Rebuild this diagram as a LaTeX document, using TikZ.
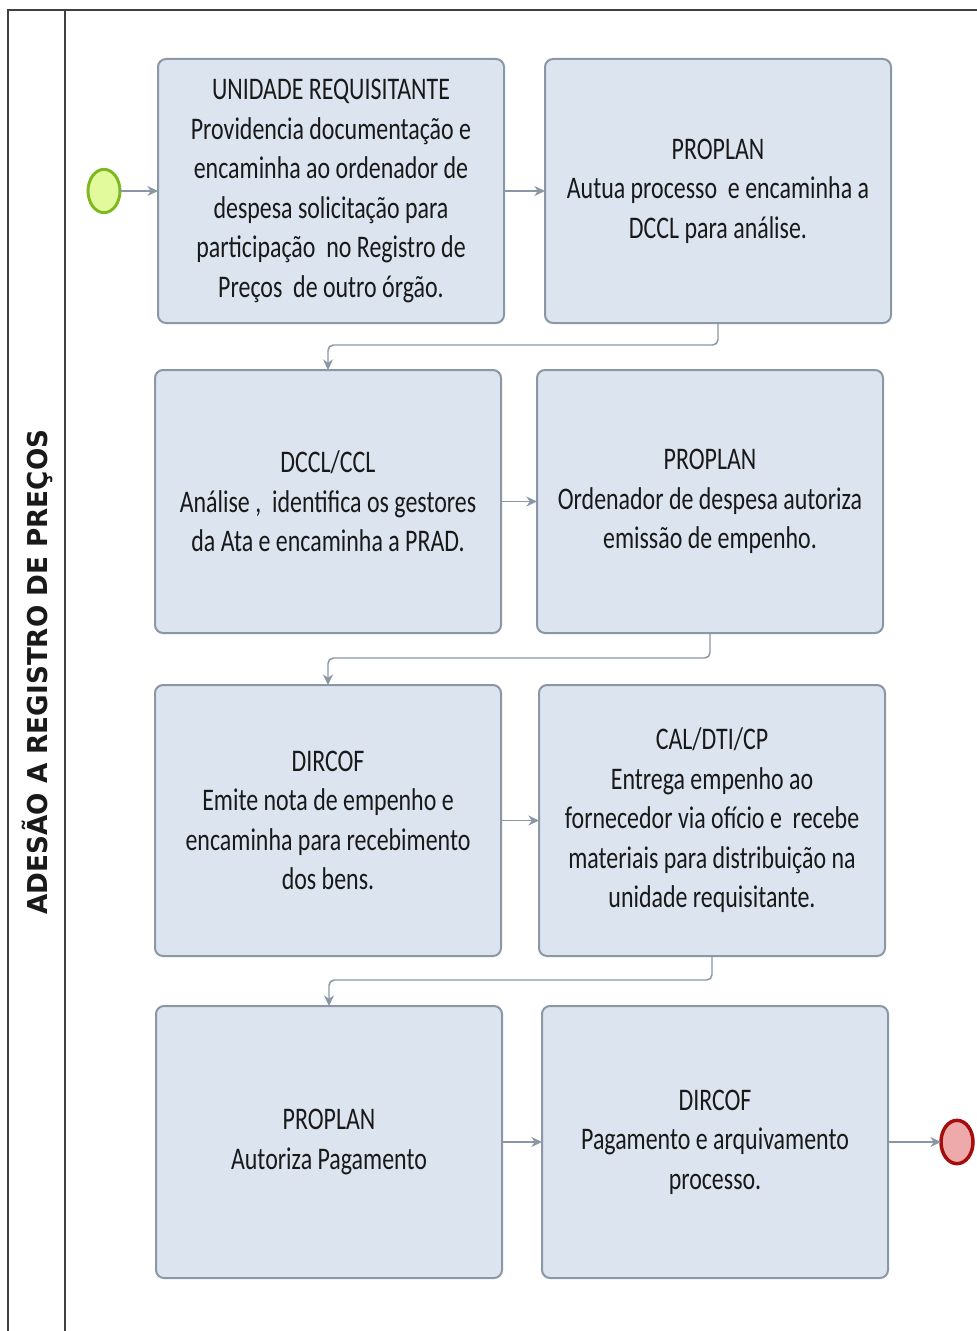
\documentclass[tikz,border=0pt]{standalone}
\usepackage{fontspec}
\usetikzlibrary{arrows.meta,shapes.geometric}
\newfontfamily\boxfont[FakeStretch=0.76]{Carlito}
\newfontfamily\lanefont[FakeStretch=0.96]{DejaVu Sans Bold}
\definecolor{boxfill}{HTML}{DCE4F0}
\definecolor{boxdraw}{HTML}{8C97A6}
\definecolor{conncol}{HTML}{8A96A4}
\definecolor{startfill}{HTML}{E2FA9C}
\definecolor{startdraw}{HTML}{7DB81E}
\definecolor{endfill}{HTML}{EEA9AA}
\definecolor{enddraw}{HTML}{A50D0D}
\tikzset{
  taskbox/.style={draw=boxdraw, fill=boxfill, line width=1.5pt, rounded corners=6pt,
    minimum width=259.5pt, align=center, inner sep=0pt, outer sep=0pt,
    font=\boxfont\fontsize{23.6}{29.6}\selectfont, text=black!90},
  conn/.style={draw=conncol, line width=1.1pt, rounded corners=4pt,
    -{Stealth[length=8pt,width=7.5pt]}},
  startev/.style={ellipse, draw=startdraw, fill=startfill, line width=2.2pt,
    minimum width=24pt, minimum height=32.5pt, inner sep=0pt, outer sep=0pt},
  endev/.style={ellipse, draw=enddraw, fill=endfill, line width=2.6pt,
    minimum width=24pt, minimum height=32.5pt, inner sep=0pt, outer sep=0pt},
  pool/.style={draw=black!75, line width=1.1pt}
}
\begin{document}
\begin{tikzpicture}[x=0.75pt,y=-0.75pt]
\useasboundingbox (0,0) rectangle (977,1331);
% pool frame
\draw[pool] (977,10) -- (8,10) -- (8,1331);
\draw[pool] (65,10) -- (65,1331);
\node[rotate=90, font=\lanefont\fontsize{20.5}{24}\selectfont, text=black!90] (lane) at (37,672) {ADESÃO A REGISTRO DE PREÇOS};

% events
\node[startev] (S) at (104,191) {};
\node[endev] (E2) at (957,1142) {};

% tasks
\node[taskbox, minimum height=198pt] (A) at (331,191)
  {UNIDADE REQUISITANTE\\Providencia documentação e\\encaminha ao ordenador de\\despesa solicitação para\\participação\ \ no Registro de\\Preços\ \ de outro órgão.};
\node[taskbox, minimum height=198pt] (B) at (718,191)
  {PROPLAN\\Autua processo\ \ e encaminha a\\DCCL para análise.};
\node[taskbox, minimum height=197.25pt] (C) at (328,501.5)
  {DCCL/CCL\\Análise ,\ \ identifica os gestores\\da Ata e encaminha a PRAD.};
\node[taskbox, minimum height=197.25pt] (D) at (710,501.5)
  {PROPLAN\\Ordenador de despesa autoriza\\emissão de empenho.};
\node[taskbox, minimum height=203.25pt] (E) at (328,820.5)
  {DIRCOF\\Emite nota de empenho e\\encaminha para recebimento\\dos bens.};
\node[taskbox, minimum height=203.25pt] (F) at (712,820.5)
  {CAL/DTI/CP\\Entrega empenho ao\\fornecedor via ofício e\ \ recebe\\materiais para distribuição na\\unidade requisitante.};
\node[taskbox, minimum height=204pt] (G) at (329,1142)
  {PROPLAN\\Autoriza Pagamento};
\node[taskbox, minimum height=204pt] (H) at (715,1142)
  {DIRCOF\\Pagamento e arquivamento\\processo.};

% connectors
\draw[conn] (S) -- (A);
\draw[conn] (A) -- (B);
\draw[conn] (B.south) -- ++(0,22) -| (C.north);
\draw[conn] (C) -- (D);
\draw[conn] (D.south) -- ++(0,25) -| (E.north);
\draw[conn] (E) -- (F);
\draw[conn] (F.south) -- ++(0,24) -| (G.north);
\draw[conn] (G) -- (H);
\draw[conn] (H) -- (E2);
\end{tikzpicture}
\end{document}
